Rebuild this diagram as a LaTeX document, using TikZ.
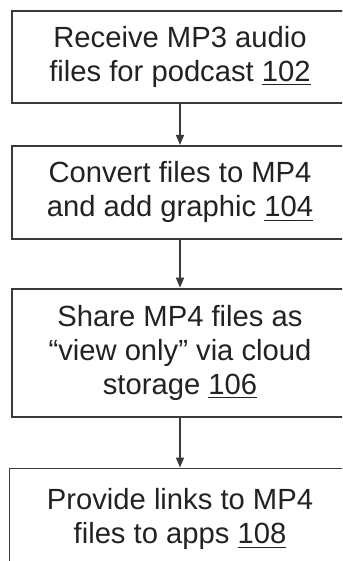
\documentclass[tikz,border=0pt]{standalone}
\usepackage{fontspec}
\setmainfont{Liberation Sans}
\usetikzlibrary{positioning,arrows.meta}

\definecolor{linegray}{HTML}{3A3A3A}
\definecolor{textgray}{HTML}{222222}

\tikzset{
  stepbox/.style={draw=linegray,line width=0.9pt,minimum width=168pt,
    inner sep=0pt,align=center,text=textgray,
    font=\fontsize{14.6}{17}\selectfont},
  flow/.style={draw=linegray,line width=0.8pt,
    -{Triangle[length=5pt,width=4pt]}}
}

\begin{document}
\begin{tikzpicture}
  %% The page is cut off on the right and at the bottom,
  %% so the last box shows no bottom edge.
  \useasboundingbox (0,0) rectangle (171pt,-280.5pt);
  \clip (0,0) rectangle (171pt,-280.5pt);

  \node [stepbox,minimum height=46pt] (receive) at (90pt,-28.5pt)
    {Receive MP3 audio\\files for podcast \underline{102}};

  \node [stepbox,minimum height=46.5pt,below=20.5pt of receive] (convert)
    {Convert files to MP4\\and add graphic \underline{104}};

  \node [stepbox,minimum height=64pt,below=24pt of convert] (share)
    {Share MP4 files as\\“view only” via cloud\\storage \underline{106}};

  \node [stepbox,minimum width=170.5pt,minimum height=51pt,below=25pt of share] (links)
    {Provide links to MP4\\files to apps \underline{108}};

  \draw [flow] (receive) -- (convert);
  \draw [flow] (convert) -- (share);
  \draw [flow] (share) -- (links);
\end{tikzpicture}
\end{document}
